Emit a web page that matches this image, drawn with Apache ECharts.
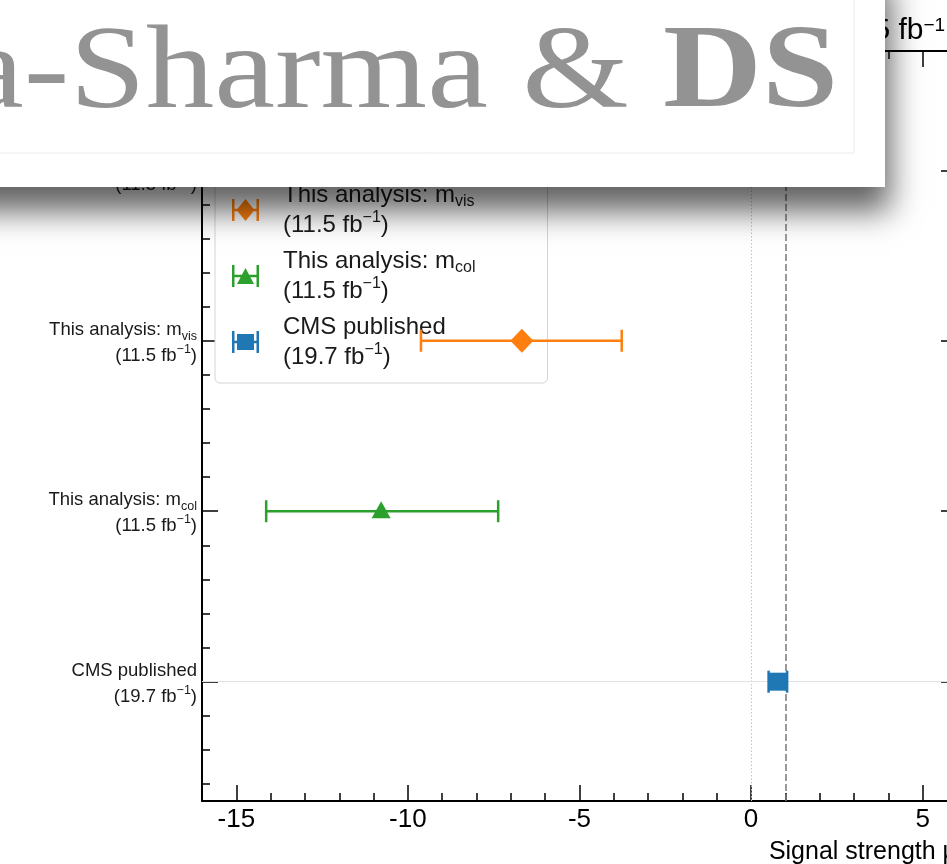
<!DOCTYPE html>
<html>
<head>
<meta charset="utf-8">
<script src="https://cdn.jsdelivr.net/npm/echarts@6/dist/echarts.min.js"></script>
<style>
  html, body { margin: 0; padding: 0; background: #fff; }
  #chart { width: 947px; height: 864px; }
</style>
</head>
<body>
<div id="chart"></div>
<script>
// Rows of the summary plot (bottom to top) and their integrated luminosity
const rowLabels = ['CMS published', 'This analysis: m_col', 'This analysis: m_vis', 'This analysis: combined'];
const rowLumi = ['19.7', '11.5', '11.5', '11.5'];

// Fitted signal strengths with their uncertainty intervals
const seriesNames = ['This analysis: m_vis', 'This analysis: m_col', 'CMS published'];
const seriesLumi = ['11.5', '11.5', '19.7'];
const seriesRows = [2, 1, 0];
const muCentral = [-6.68, -10.78, 0.78];
const muLow = [-9.62, -14.13, 0.51];
const muHigh = [-3.77, -7.37, 1.05];
const seriesColors = ['#ff7f0e', '#2ca02c', '#1f77b4'];
const seriesMarkers = ['diamond', 'triangle', 'square'];

// Axis ticks and reference lines
const xMajorTicks = [-15, -10, -5, 0, 5];
const yMajorTicks = [0, 1, 2, 3];
const yMinorTicks = [-0.6, -0.4, -0.2, 0.2, 0.4, 0.6, 0.8, 1.2, 1.4, 1.6, 1.8, 2.2, 2.4, 2.6, 2.8, 3.2, 3.4, 3.6];
const muZero = 0;
const muStandardModel = 1;

const SANS = '"Liberation Sans", Arial, Helvetica, sans-serif';
const SERIF = '"Liberation Serif", "Times New Roman", serif';

// "m_vis" -> m{sub|vis}, plus a luminosity line with a superscript
function richLabel(label, lumi) {
  const m = label.match(/^(.*)_(\w+)$/);
  const first = m ? m[1] + '{sub|' + m[2] + '}' : label;
  return first + '\n(' + lumi + ' fb{sup|\u22121})';
}

const legendIcons = {
  diamond: 'path://M0 0H2.5V22H0Z M24.5 0H27V22H24.5Z M0 9.75H27V12.25H0Z M13.5 0L22.5 11L13.5 22L4.5 11Z',
  triangle: 'path://M0 0H2.5V22H0Z M24.5 0H27V22H24.5Z M0 9.75H27V12.25H0Z M13.5 3L22 19L5 19Z',
  square: 'path://M0 0H2.5V22H0Z M24.5 0H27V22H24.5Z M0 9.75H27V12.25H0Z M5 3H22V19H5Z'
};

function errorBarRenderer(k) {
  return function (params, api) {
    const y = api.value(3);
    const c = api.coord([api.value(0), y]);
    const lo = api.coord([api.value(1), y]);
    const hi = api.coord([api.value(2), y]);
    const color = seriesColors[k];
    const cap = 11;
    const lw = 2.5;
    const st = { stroke: color, lineWidth: lw };
    const children = [
      { type: 'line', shape: { x1: lo[0], y1: c[1], x2: hi[0], y2: c[1] }, style: st },
      { type: 'line', shape: { x1: lo[0], y1: c[1] - cap, x2: lo[0], y2: c[1] + cap }, style: st },
      { type: 'line', shape: { x1: hi[0], y1: c[1] - cap, x2: hi[0], y2: c[1] + cap }, style: st }
    ];
    const cx = c[0], cy = c[1];
    const mk = seriesMarkers[k];
    if (mk === 'diamond') {
      children.push({ type: 'polygon', shape: { points: [[cx, cy - 12], [cx + 11.5, cy], [cx, cy + 12], [cx - 11.5, cy]] }, style: { fill: color } });
    } else if (mk === 'triangle') {
      children.push({ type: 'polygon', shape: { points: [[cx, cy - 10], [cx + 9.5, cy + 7], [cx - 9.5, cy + 7]] }, style: { fill: color } });
    } else {
      children.push({ type: 'rect', shape: { x: cx - 9, y: cy - 9, width: 18, height: 18 }, style: { fill: color } });
    }
    return { type: 'group', children: children };
  };
}

const series = seriesNames.map(function (name, k) {
  return {
    type: 'custom',
    name: name,
    xAxisIndex: 0,
    yAxisIndex: 0,
    z: 5,
    itemStyle: { color: seriesColors[k] },
    renderItem: errorBarRenderer(k),
    encode: { x: [0, 1, 2], y: 3 },
    data: [[muCentral[k], muLow[k], muHigh[k], seriesRows[k]]]
  };
});

// Reference lines: mu = 0, mu = 1 (SM) and the published row
series.push({
  type: 'line',
  name: 'reference',
  xAxisIndex: 0,
  yAxisIndex: 0,
  data: [],
  z: 1,
  markLine: {
    silent: true,
    symbol: 'none',
    label: { show: false },
    data: [
      { xAxis: muZero, lineStyle: { color: '#c4c4c4', width: 1, type: [1.5, 2] } },
      { xAxis: muStandardModel, lineStyle: { color: '#7a7a7a', width: 1.5, type: [7, 3] } },
      { yAxis: seriesRows[2], lineStyle: { color: '#e2e2e2', width: 1.2, type: 'solid' } }
    ]
  }
});

const xBase = { type: 'value', min: -16, max: 6, splitLine: { show: false } };
const yBase = { type: 'value', min: -0.7, max: 3.7, splitLine: { show: false } };
const spine = { show: true, onZero: false, lineStyle: { color: '#000', width: 2 } };
const hiddenLine = { show: false, onZero: false };
const majorTick = { show: true, inside: true, length: 16, lineStyle: { color: '#000', width: 1.5 } };
const minorTickStyle = { show: true, inside: true, length: 8, lineStyle: { color: '#000', width: 1.5 } };

const tickTextStyle = { fontFamily: SANS, color: '#000' };

const option = {
  backgroundColor: '#fff',
  animation: false,
  grid: { left: 202, right: -10, top: 51, bottom: 63, containLabel: false, outerBoundsMode: 'none' },
  title: {
    text: '11.5 fb{sup|\u22121}',
    left: 834,
    top: 16,
    padding: 0,
    z: 2,
    textStyle: {
      fontFamily: SANS, fontSize: 30, fontWeight: 'normal', color: '#000', lineHeight: 30,
      rich: { sup: { fontFamily: SANS, fontSize: 19, color: '#000', verticalAlign: 'top', lineHeight: 30 } }
    }
  },
  legend: {
    orient: 'vertical',
    left: 215,
    top: 60,
    padding: [120, 72, 11, 17],
    itemGap: 6,
    itemWidth: 27,
    itemHeight: 22,
    backgroundColor: '#fff',
    borderColor: '#d4d4d4',
    borderWidth: 1,
    borderRadius: 5,
    z: 3,
    selectedMode: false,
    data: seriesNames.map(function (n, k) {
      return { name: n, icon: legendIcons[seriesMarkers[k]] };
    }),
    formatter: function (name) {
      const k = seriesNames.indexOf(name);
      return richLabel(name, seriesLumi[k]);
    },
    textStyle: {
      fontFamily: SANS, fontSize: 24, lineHeight: 30, color: '#1a1a1a',
      padding: [0, 0, 0, 19],
      rich: {
        sub: { fontFamily: SANS, fontSize: 16, color: '#1a1a1a', verticalAlign: 'bottom', lineHeight: 30 },
        sup: { fontFamily: SANS, fontSize: 16, color: '#1a1a1a', verticalAlign: 'top', lineHeight: 30 }
      }
    }
  },
  xAxis: [
    Object.assign({}, xBase, {
      position: 'bottom',
      axisLine: spine,
      axisTick: Object.assign({}, majorTick, { customValues: xMajorTicks }),
      axisLabel: Object.assign({ customValues: xMajorTicks, fontSize: 26, margin: 6 }, tickTextStyle),
      name: 'Signal strength \u03bc',
      nameLocation: 'end',
      nameGap: 0,
      nameTextStyle: { fontFamily: SANS, fontSize: 25, color: '#000', align: 'right', verticalAlign: 'top', padding: [39, 0, 0, 0] }
    }),
    Object.assign({}, xBase, {
      position: 'bottom', interval: 1,
      axisLine: hiddenLine, axisTick: minorTickStyle, axisLabel: { show: false }
    }),
    Object.assign({}, xBase, {
      position: 'top',
      axisLine: spine,
      axisTick: Object.assign({}, majorTick, { customValues: xMajorTicks }),
      axisLabel: { show: false }
    }),
    Object.assign({}, xBase, {
      position: 'top', interval: 1,
      axisLine: hiddenLine, axisTick: minorTickStyle, axisLabel: { show: false }
    })
  ],
  yAxis: [
    Object.assign({}, yBase, {
      position: 'left',
      axisLine: spine,
      axisTick: Object.assign({}, majorTick, { customValues: yMajorTicks }),
      axisLabel: {
        customValues: yMajorTicks,
        margin: 5,
        fontFamily: SANS, fontSize: 18.5, lineHeight: 26, color: '#1a1a1a', align: 'right',
        padding: [4, 0, 0, 0],
        formatter: function (v) {
          const i = Math.round(v);
          return richLabel(rowLabels[i], rowLumi[i]);
        },
        rich: {
          sub: { fontFamily: SANS, fontSize: 12.5, color: '#1a1a1a', verticalAlign: 'bottom', lineHeight: 26 },
          sup: { fontFamily: SANS, fontSize: 12.5, color: '#1a1a1a', verticalAlign: 'top', lineHeight: 26 }
        }
      }
    }),
    Object.assign({}, yBase, {
      position: 'left',
      axisLine: hiddenLine,
      axisTick: Object.assign({}, minorTickStyle, { customValues: yMinorTicks }),
      axisLabel: { show: false, customValues: yMinorTicks }
    }),
    Object.assign({}, yBase, {
      position: 'right',
      axisLine: spine,
      axisTick: Object.assign({}, majorTick, { customValues: yMajorTicks }),
      axisLabel: { show: false, customValues: yMajorTicks }
    }),
    Object.assign({}, yBase, {
      position: 'right',
      axisLine: hiddenLine,
      axisTick: Object.assign({}, minorTickStyle, { customValues: yMinorTicks }),
      axisLabel: { show: false, customValues: yMinorTicks }
    })
  ],
  series: series,
  graphic: {
    elements: [
      {
        type: 'rect',
        z: 100,
        shape: { x: -40, y: -40, width: 925, height: 227 },
        style: { fill: '#fff', shadowBlur: 30, shadowColor: 'rgba(0,0,0,0.62)', shadowOffsetX: 5, shadowOffsetY: 24 }
      },
      {
        type: 'rect',
        z: 101,
        shape: { x: -40, y: -40, width: 894, height: 193 },
        style: { fill: 'none', stroke: '#ebebeb', lineWidth: 1 }
      },
      {
        type: 'text',
        z: 102,
        x: 663,
        y: 16,
        scaleY: 0.87,
        style: { text: 'a-Sharma & ', font: '137px ' + SERIF, fill: '#939393', align: 'right', verticalAlign: 'top' }
      },
      {
        type: 'text',
        z: 102,
        x: 663,
        y: 16,
        scaleY: 0.87,
        style: { text: 'DS', font: 'bold 137px ' + SERIF, fill: '#939393', align: 'left', verticalAlign: 'top' }
      }
    ]
  }
};

const chart = echarts.init(document.getElementById('chart'), null, { renderer: 'canvas' });
chart.setOption(option);
</script>
</body>
</html>
